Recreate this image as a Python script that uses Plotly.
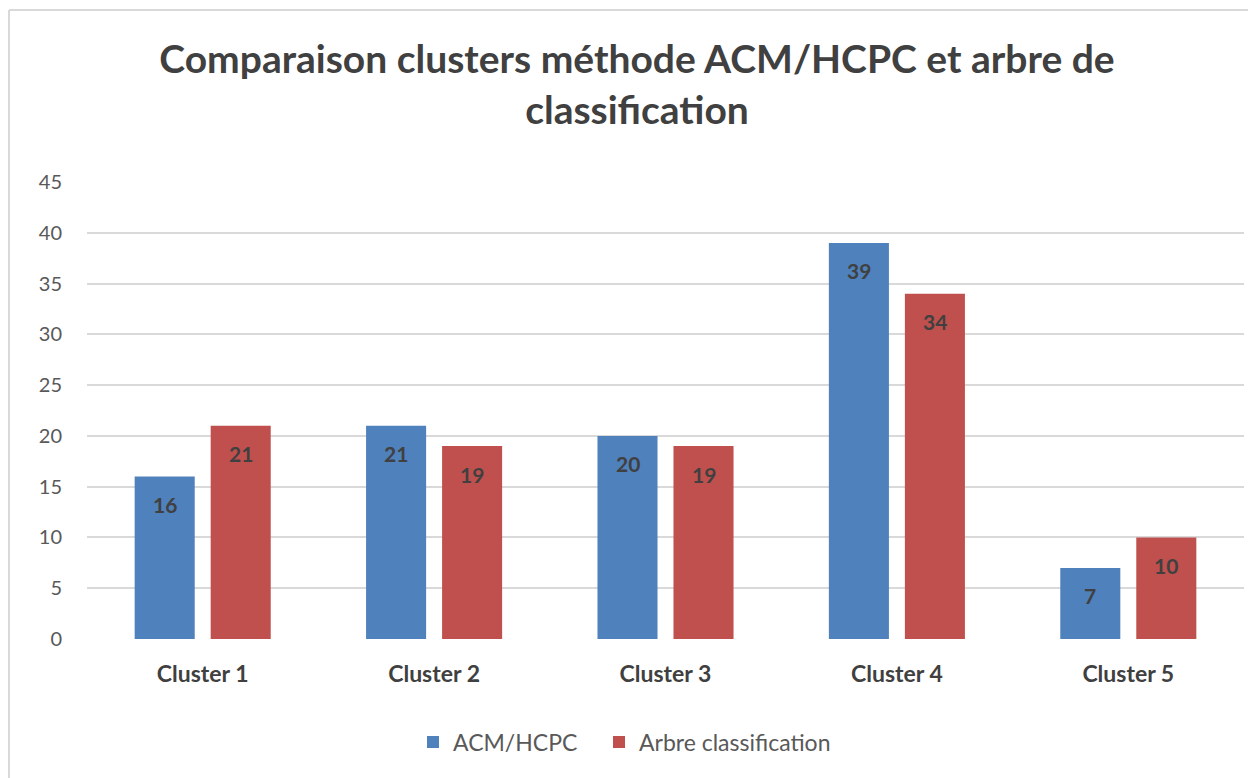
import plotly.graph_objects as go

categories = ["Cluster 1", "Cluster 2", "Cluster 3", "Cluster 4", "Cluster 5"]
acm_hcpc = [16, 21, 20, 39, 7]
arbre = [21, 19, 19, 34, 10]
series_names = ["ACM/HCPC", "Arbre classification"]
y_ticks = [0, 5, 10, 15, 20, 25, 30, 35, 40, 45]

FONT = "Lato"
W, H = 1256, 778
OFF = 8  # page body margin offset
# plot area in screen pixels
PL, PR, PT, PB = 87, 1244, 182, 639
ML = PL - OFF
MT = PT - OFF
MR = W - (PR - OFF)
MB = H - (PB - OFF)
PW = W - ML - MR
PH = H - MT - MB

def px_x(sx):
    return (sx - PL) / PW

def px_y(sy):
    return (PB - sy) / PH

fig = go.Figure()
series = [(series_names[0], acm_hcpc, "#4F81BD", -38, "legend"),
          (series_names[1], arbre, "#C0504D", 38, "legend2")]
for name, vals, color, _, lg in series:
    fig.add_trace(go.Bar(
        x=categories, y=vals, name=name, legend=lg, showlegend=True,
        marker=dict(color=color, line=dict(width=0)),
    ))

annotations = []
for name, vals, color, xs, _ in series:
    for c, v in zip(categories, vals):
        annotations.append(dict(
            x=c, y=v, xref="x", yref="y", text=f"<b>{v}</b>", showarrow=False,
            xshift=xs, yshift=-28, yanchor="middle", xanchor="center",
            font=dict(family=FONT, size=21, color="#404040"),
        ))

legend_style = dict(
    orientation="h", xanchor="left", y=px_y(742), yanchor="middle",
    font=dict(family=FONT, size=23, color="#595959"),
    itemwidth=30, bgcolor="rgba(0,0,0,0)", visible=True,
)

fig.update_layout(
    width=W, height=H,
    showlegend=True,
    margin=dict(l=ML, r=MR, t=MT, b=MB),
    paper_bgcolor="white", plot_bgcolor="white",
    barmode="group", bargap=0.343, bargroupgap=0.21,
    title=dict(
        text="Comparaison clusters méthode ACM/HCPC et arbre de<br>classification",
        font=dict(family=FONT, size=39, color="#404040", weight="bold"),
        x=(637 - OFF) / W, xanchor="center", y=1 - 65 / H, yanchor="middle", yref="container",
    ),
    xaxis=dict(
        showgrid=False, showline=False, zeroline=False, ticks="",
        tickfont=dict(family=FONT, size=23, color="#404040", weight="bold"),
        ticklabelstandoff=19,
    ),
    yaxis=dict(
        range=[0, 45], tickvals=y_ticks, showgrid=True, gridcolor="#D9D9D9", gridwidth=1.5,
        zeroline=False, showline=False, ticks="",
        tickfont=dict(family=FONT, size=20, color="#595959"),
        ticklabelstandoff=24,
    ),
    legend=dict(x=px_x(413), **legend_style),
    legend2=dict(x=px_x(599), **legend_style),
    annotations=annotations,
    shapes=[
        dict(type="line", xref="paper", yref="paper", x0=px_x(9), x1=px_x(9), y0=px_y(10), y1=px_y(800),
             line=dict(color="#D9D9D9", width=2)),
        dict(type="line", xref="paper", yref="paper", x0=px_x(9), x1=px_x(1280), y0=px_y(10), y1=px_y(10),
             line=dict(color="#D9D9D9", width=2)),
    ],
)

fig.write_html("out.html")
